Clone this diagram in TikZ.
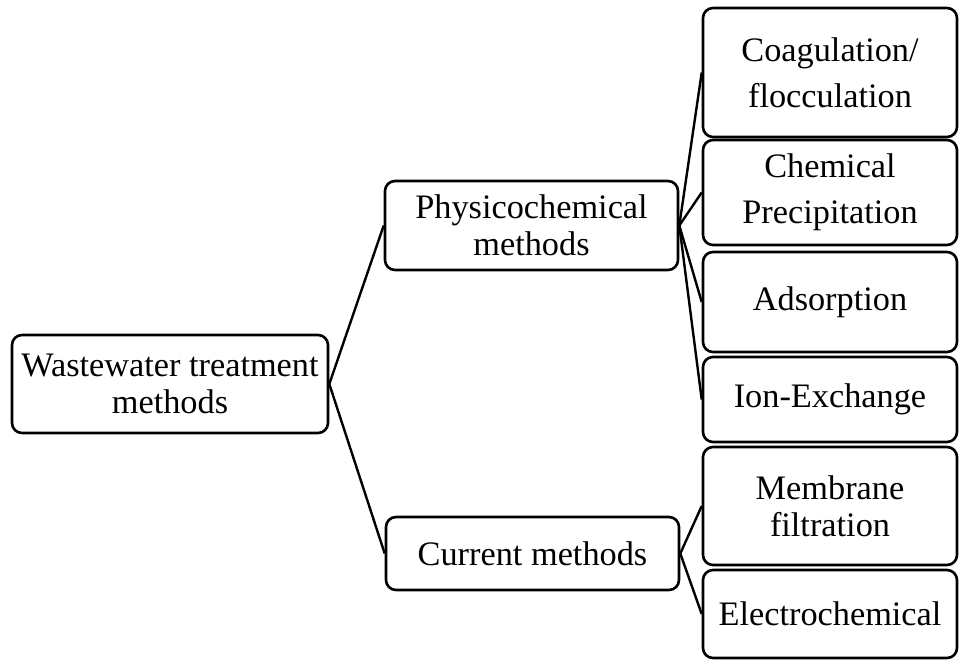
\documentclass[tikz,border=0pt]{standalone}
\usepackage{fontspec}
\setmainfont{Liberation Serif}
\begin{document}
\begin{tikzpicture}[x=1pt,y=-1pt,
  box/.style={draw=black, line width=2.6pt, rounded corners=10pt, fill=white,
    align=center, inner sep=0pt, font=\fontsize{34.3}{37}\selectfont},
  wide/.style={font=\fontsize{34.3}{46}\selectfont},
  conn/.style={draw=black, line width=2.4pt}]
\useasboundingbox (0,0) rectangle (966,659);
\node[box, minimum width=316pt, minimum height=98pt] (root) at (170,384) {Wastewater treatment\\methods};
\node[box, minimum width=293pt, minimum height=89pt] (phys) at (531.5,225.5) {Physicochemical\\methods};
\node[box, minimum width=293pt, minimum height=73pt] (cur) at (532.5,553.5) {Current methods};
\node[box, wide, minimum width=254pt, minimum height=129pt] (coag) at (830,72.5) {Coagulation/\\flocculation};
\node[box, wide, minimum width=254pt, minimum height=105pt] (chem) at (830,192.5) {Chemical\\Precipitation};
\node[box, minimum width=254pt, minimum height=100pt] (ads) at (830,302) {Adsorption};
\node[box, minimum width=254pt, minimum height=85pt] (ion) at (830,399.5) {Ion-Exchange};
\node[box, minimum width=254pt, minimum height=118pt] (mem) at (830,506) {Membrane\\filtration};
\node[box, minimum width=254pt, minimum height=88pt] (elec) at (830,614) {Electrochemical};
\draw[conn] (root.east) -- (phys.west);
\draw[conn] (root.east) -- (cur.west);
\draw[conn] (phys.east) -- (coag.west);
\draw[conn] (phys.east) -- (chem.west);
\draw[conn] (phys.east) -- (ads.west);
\draw[conn] (phys.east) -- (ion.west);
\draw[conn] (cur.east) -- (mem.west);
\draw[conn] (cur.east) -- (elec.west);
\end{tikzpicture}
\end{document}
